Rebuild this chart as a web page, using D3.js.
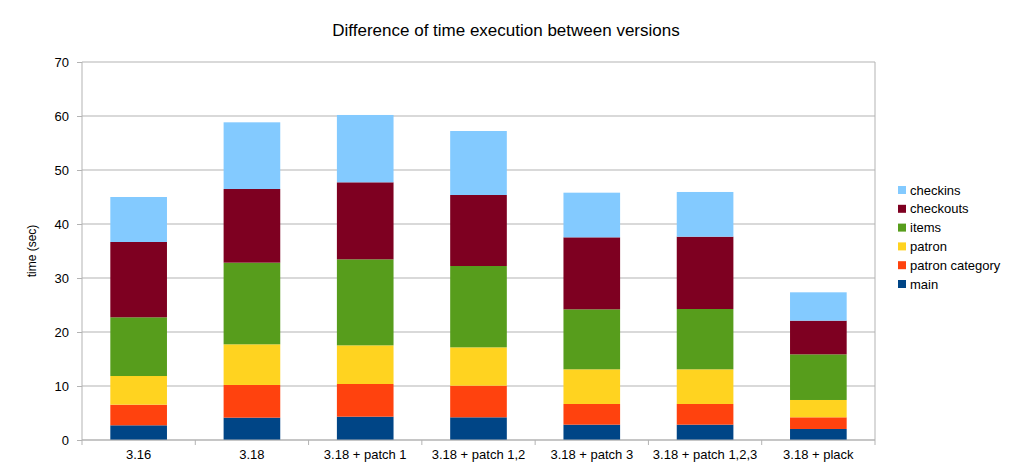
<!DOCTYPE html>
<html>
<head>
<meta charset="utf-8">
<script src="https://cdn.jsdelivr.net/npm/d3@7"></script>
<style>
  body { margin: 0; background: #fff; }
  svg { font-family: "Liberation Sans", Arial, sans-serif; }
</style>
</head>
<body>
<svg id="chart" width="1013" height="474"></svg>
<script>
// Categories and series (seconds)
var versions = ["3.16", "3.18", "3.18 + patch 1", "3.18 + patch 1,2", "3.18 + patch 3", "3.18 + patch 1,2,3", "3.18 + plack"];
var seriesNames = ["main", "patron category", "patron", "items", "checkouts", "checkins"];
var mainTimes = [2.72, 4.14, 4.32, 4.2, 2.84, 2.84, 2.04];
var patronCategoryTimes = [3.82, 6.05, 6.05, 5.86, 3.83, 3.83, 2.16];
var patronTimes = [5.31, 7.53, 7.16, 7.1, 6.42, 6.42, 3.21];
var itemsTimes = [10.87, 15.12, 15.93, 15.06, 11.11, 11.17, 8.45];
var checkoutsTimes = [13.95, 13.64, 14.26, 13.15, 13.33, 13.39, 6.24];
var checkinsTimes = [8.33, 12.35, 12.47, 11.85, 8.27, 8.28, 5.25];
var yTicks = [0, 10, 20, 30, 40, 50, 60, 70];

var colors = ["#004586", "#ff420e", "#ffd320", "#579d1c", "#7e0021", "#83caff"];

// build rows for the stack
var seriesValues = [mainTimes, patronCategoryTimes, patronTimes, itemsTimes, checkoutsTimes, checkinsTimes];
var rows = versions.map(function(v, i) {
    var r = { version: v };
    seriesNames.forEach(function(s, j) { r[s] = seriesValues[j][i]; });
    return r;
});

var svg = d3.select("#chart");
var plotLeft = 82, plotRight = 875, plotTop = 62, plotBottom = 440;

var x = d3.scaleBand().domain(versions).range([plotLeft, plotRight]).paddingInner(0.5).paddingOuter(0.25);
var y = d3.scaleLinear().domain([0, 70]).range([plotBottom, plotTop]);
var color = d3.scaleOrdinal().domain(seriesNames).range(colors);

// gridlines
svg.append("g")
    .selectAll("line")
    .data(yTicks)
    .enter().append("line")
    .attr("x1", plotLeft).attr("x2", plotRight)
    .attr("y1", function(d) { return y(d); })
    .attr("y2", function(d) { return y(d); })
    .attr("stroke", "#b3b3b3");

// stacked bars
var stack = d3.stack().keys(seriesNames)(rows);
svg.append("g")
    .selectAll("g")
    .data(stack)
    .enter().append("g")
    .attr("fill", function(d) { return color(d.key); })
    .selectAll("rect")
    .data(function(d) { return d; })
    .enter().append("rect")
    .attr("x", function(d) { return x(d.data.version); })
    .attr("width", x.bandwidth())
    .attr("y", function(d) { return y(d[1]); })
    .attr("height", function(d) { return y(d[0]) - y(d[1]); });

// y axis
var yAxis = svg.append("g")
    .attr("transform", "translate(" + plotLeft + ",0)")
    .call(d3.axisLeft(y).tickValues(yTicks).tickSize(5).tickPadding(8));
yAxis.select(".domain").attr("stroke", "#b3b3b3").attr("d", "M0," + plotTop + "V" + plotBottom);
yAxis.selectAll(".tick line").attr("stroke", "#b3b3b3");
yAxis.selectAll("text").attr("font-size", 13).attr("fill", "#000")
    .attr("font-family", "Liberation Sans, Arial, sans-serif");

// right border of plot
svg.append("line")
    .attr("x1", plotRight).attr("x2", plotRight).attr("y1", plotTop).attr("y2", plotBottom)
    .attr("stroke", "#b3b3b3");

// x axis: ticks at band boundaries
var xAxis = svg.append("g")
    .attr("transform", "translate(0," + plotBottom + ")")
    .call(d3.axisBottom(x).tickSize(0).tickPadding(10));
xAxis.select(".domain").attr("stroke", "#b3b3b3").attr("d", "M" + plotLeft + ",0H" + plotRight);
xAxis.selectAll("text").attr("font-size", 13).attr("fill", "#000")
    .attr("font-family", "Liberation Sans, Arial, sans-serif");
var step = x.step();
svg.append("g")
    .selectAll("line")
    .data(d3.range(versions.length + 1))
    .enter().append("line")
    .attr("x1", function(i) { return plotLeft + i * step; })
    .attr("x2", function(i) { return plotLeft + i * step; })
    .attr("y1", plotBottom).attr("y2", plotBottom + 5)
    .attr("stroke", "#b3b3b3");

// title
svg.append("text")
    .attr("x", 506).attr("y", 36)
    .attr("text-anchor", "middle")
    .attr("font-size", 17)
    .text("Difference of time execution between versions");

// y axis title
svg.append("text")
    .attr("transform", "translate(36,251) rotate(-90)")
    .attr("text-anchor", "middle")
    .attr("font-size", 12)
    .text("time (sec)");

// legend, top entry is the last series
var legendItems = seriesNames.slice().reverse();
var legend = svg.append("g")
    .selectAll("g")
    .data(legendItems)
    .enter().append("g")
    .attr("transform", function(d, i) { return "translate(898," + (190 + i * 18.8) + ")"; });
legend.append("rect")
    .attr("x", 0).attr("y", -4)
    .attr("width", 8).attr("height", 8)
    .attr("fill", function(d) { return color(d); });
legend.append("text")
    .attr("x", 12).attr("y", 4.5)
    .attr("font-size", 13)
    .text(function(d) { return d; });
</script>
</body>
</html>
